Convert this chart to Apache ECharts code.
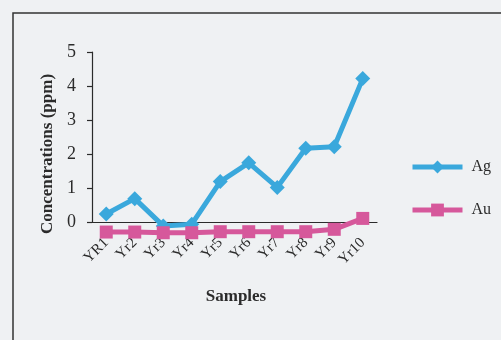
<!DOCTYPE html>
<html>
<head>
<meta charset="utf-8">
<script src="https://cdn.jsdelivr.net/npm/echarts@6/dist/echarts.min.js"></script>
<style>
  html, body { margin: 0; padding: 0; background: #eff1f3; }
  #chart { width: 501px; height: 340px; }
</style>
</head>
<body>
<div id="chart"></div>
<script>
// Sample categories and trace-metal concentrations (ppm)
const samples = ['YR1', 'Yr2', 'Yr3', 'Yr4', 'Yr5', 'Yr6', 'Yr7', 'Yr8', 'Yr9', 'Yr10'];
const agValues = [0.25, 0.7, -0.1, -0.05, 1.2, 1.75, 1.03, 2.18, 2.22, 4.22];
const auValues = [-0.28, -0.28, -0.3, -0.3, -0.27, -0.27, -0.27, -0.27, -0.2, 0.12];
const yTicks = [0, 1, 2, 3, 4, 5];

const serif = '"Liberation Serif", "DejaVu Serif", serif';
const ink = '#2b2b2b';

const chart = echarts.init(document.getElementById('chart'));
chart.setOption({
  backgroundColor: '#eff1f3',
  animation: false,
  grid: { left: 92, top: 52, width: 285, height: 170.5, containLabel: false },
  xAxis: {
    type: 'category',
    data: samples,
    boundaryGap: true,
    axisLine: { lineStyle: { color: ink, width: 1.2 } },
    axisTick: { inside: true, length: 5, lineStyle: { color: ink, width: 1.2 } },
    axisLabel: {
      interval: 0, hideOverlap: false,
      rotate: 45, margin: 18, color: ink,
      fontFamily: serif, fontSize: 15
    }
  },
  yAxis: {
    type: 'value',
    min: yTicks[0], max: yTicks[yTicks.length - 1], interval: 1,
    splitLine: { show: false },
    axisLine: { show: true, lineStyle: { color: ink, width: 1.2 } },
    axisTick: { show: true, length: 5, lineStyle: { color: ink, width: 1.2 } },
    axisLabel: { margin: 16, color: ink, fontFamily: serif, fontSize: 18 }
  },
  legend: {
    orient: 'vertical',
    left: 405, top: 154,
    itemWidth: 50, itemHeight: 16, itemGap: 27,
    lineStyle: { width: 5 },
    textStyle: { fontFamily: serif, fontSize: 16, color: ink, padding: [-8, 0, 0, 4] },
    data: ['Ag', 'Au']
  },
  graphic: [
    {
      type: 'rect', silent: true,
      shape: { x: 13, y: 13, width: 600, height: 400 },
      style: { fill: 'none', stroke: '#333', lineWidth: 1.5 }
    },
    {
      type: 'text', silent: true,
      x: 48, y: 154, rotation: Math.PI / 2,
      style: {
        text: 'Concentrations (ppm)', fill: ink,
        font: 'bold 17px ' + serif,
        align: 'center', verticalAlign: 'middle'
      }
    },
    {
      type: 'text', silent: true,
      x: 236, y: 297,
      style: {
        text: 'Samples', fill: ink,
        font: 'bold 17px ' + serif,
        align: 'center', verticalAlign: 'middle'
      }
    }
  ],
  series: [
    {
      name: 'Ag', type: 'line', data: agValues, clip: false,
      symbol: 'diamond', symbolSize: 15,
      lineStyle: { color: '#3aa8dc', width: 5 },
      itemStyle: { color: '#3aa8dc' }
    },
    {
      name: 'Au', type: 'line', data: auValues, clip: false,
      symbol: 'rect', symbolSize: 13,
      lineStyle: { color: '#d6589b', width: 5 },
      itemStyle: { color: '#d6589b' }
    }
  ]
});
</script>
</body>
</html>
